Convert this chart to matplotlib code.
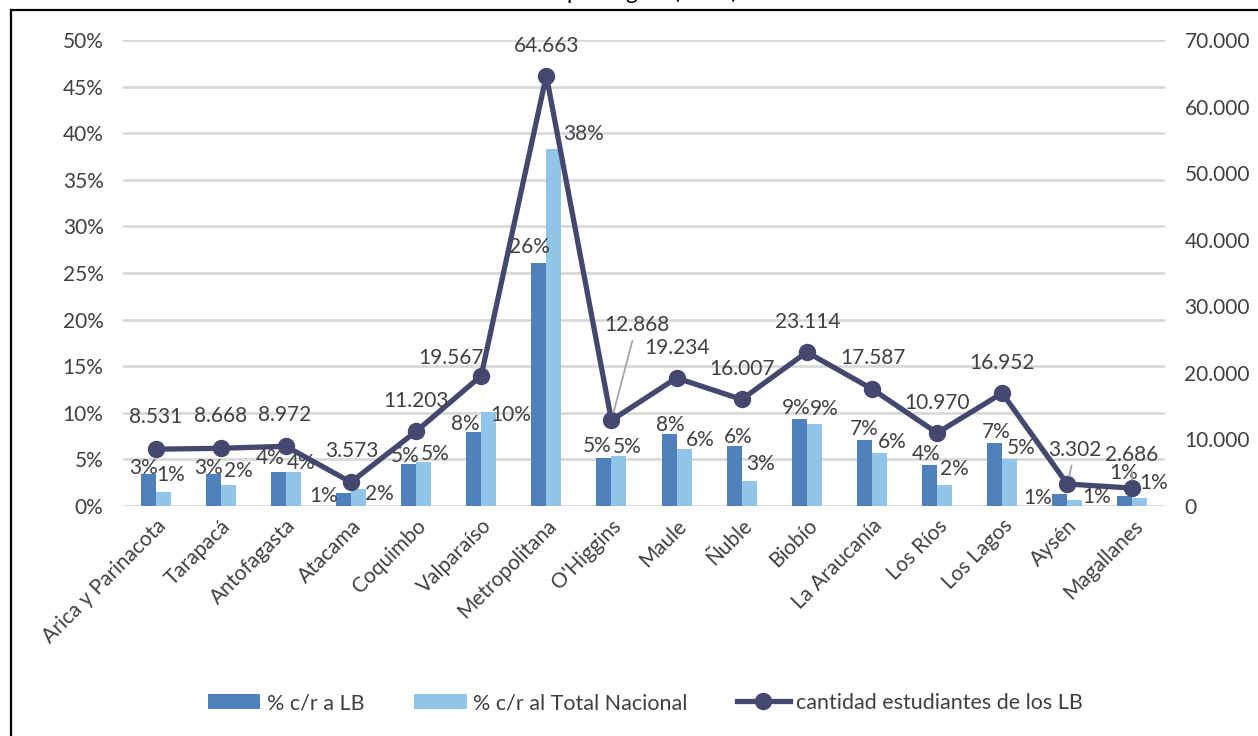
import numpy as np
import matplotlib.pyplot as plt
from matplotlib.lines import Line2D

plt.rcParams['font.family'] = ['Lato', 'DejaVu Sans']

# -----------------------------
# Datos
# -----------------------------
regiones = ['Arica y Parinacota', 'Tarapacá', 'Antofagasta', 'Atacama', 'Coquimbo',
            'Valparaíso', 'Metropolitana', "O'Higgins", 'Maule', 'Ñuble', 'Biobío',
            'La Araucanía', 'Los Ríos', 'Los Lagos', 'Aysén', 'Magallanes']
pct_lb = [3.4, 3.45, 3.6, 1.4, 4.55, 7.9, 26.1, 5.2, 7.7, 6.45, 9.3, 7.1, 4.4, 6.8, 1.3, 1.1]
pct_nacional = [1.45, 2.25, 3.6, 1.8, 4.75, 10.05, 38.3, 5.4, 6.1, 2.7, 8.8, 5.7, 2.2, 5.0, 0.6, 0.9]
estudiantes = [8531, 8668, 8972, 3573, 11203, 19567, 64663, 12868, 19234, 16007,
               23114, 17587, 10970, 16952, 3302, 2686]

# desplazamientos de etiquetas (pixeles: dx, dy sobre la barra / punto)
off_lb = [(-5, 6), (-5, 6), (-8, 14), (-20, -3), (-3, 8), (-8, 8), (-9, 16), (-7, 12),
          (1, 9), (4, 9), (-3, 11), (0, 11), (-3, 11), (2, 11), (-22, -4), (-1, 23)]
off_nac = [(8, 17), (10, 14), (8, 9), (21, -5), (12, 8), (22, -3), (30, 15), (8, 9),
           (16, 9), (11, 17), (10, 15), (13, 11), (10, 16), (11, 11), (22, 3), (14, 15)]
off_est = [(0, 32), (0, 32), (-1, 31), (1, 31), (0, 30), (-30, 18), (0, 30), (25, 95),
           (0, 30), (0, 30), (1, 30), (1, 31), (0, 30), (0, 30), (8, 34), (-1, 33)]
con_guia = [7, 14, 15]

c_lb = '#4f81bd'
c_nac = '#92c5ea'
c_linea = '#46476f'
c_texto = '#404040'
fs = 15

fig = plt.figure(figsize=(12.58, 7.36), dpi=100)
ax = fig.add_axes([123 / 1258, 1 - 506 / 736, 1042 / 1258, 466 / 736])
ax2 = ax.twinx()

x = np.arange(len(regiones))
w = 0.23
ax.bar(x - w / 2, pct_lb, w, color=c_lb, label='% c/r a LB', zorder=2)
ax.bar(x + w / 2, pct_nacional, w, color=c_nac, label='% c/r al Total Nacional', zorder=2)

ax.set_xlim(-0.5, len(regiones) - 0.5)
ax.set_ylim(0, 50)
ax.set_yticks(np.arange(0, 51, 5))
ax.set_yticklabels([f'{v}%' for v in range(0, 51, 5)])
ax.grid(axis='y', color='#d9d9d9', linewidth=2, zorder=0)
ax.set_axisbelow(True)

ax2.plot(x, estudiantes, color=c_linea, linewidth=3.8, marker='o', markersize=11.5,
         label='cantidad estudiantes de los LB', zorder=3)
ax2.set_ylim(0, 70000)
ax2.set_yticks(np.arange(0, 70001, 10000))
ax2.set_yticklabels(['0'] + [f'{v // 1000}.000' for v in range(10000, 70001, 10000)])

for a in (ax, ax2):
    for s in a.spines.values():
        s.set_visible(False)
    a.tick_params(length=0, labelsize=fs, colors=c_texto)
ax.tick_params(axis='y', pad=14)
ax2.tick_params(axis='y', pad=14)

ax.set_xticks(x)
ax.set_xticklabels(regiones, rotation=45, ha='right', va='top', rotation_mode='anchor')
ax.tick_params(axis='x', pad=7)

# etiquetas de barras
for i in range(len(regiones)):
    ax.annotate(f'{round(pct_lb[i])}%', (x[i] - w / 2, pct_lb[i]), xytext=off_lb[i],
                textcoords='offset pixels', ha='center', va='center', fontsize=fs,
                color=c_texto, zorder=5)
    ax.annotate(f'{round(pct_nacional[i])}%', (x[i] + w / 2, pct_nacional[i]), xytext=off_nac[i],
                textcoords='offset pixels', ha='center', va='center', fontsize=fs,
                color=c_texto, zorder=5)

# etiquetas de la linea
for i, v in enumerate(estudiantes):
    txt = f'{v:,}'.replace(',', '.')
    props = None
    if i in con_guia:
        props = dict(arrowstyle='-', color='#a6a6a6', linewidth=1.3, shrinkA=2, shrinkB=6)
    ax2.annotate(txt, (x[i], v), xytext=off_est[i], textcoords='offset pixels',
                 ha='center', va='center', fontsize=fs, color=c_texto,
                 arrowprops=props, zorder=5)

fig.legend(loc='center', bbox_to_anchor=(0.513, 1 - 703 / 736), ncol=3, frameon=False,
           fontsize=fs + 0.5, handlelength=2.45, handleheight=0.7, columnspacing=2.3,
           handletextpad=0.3, labelcolor=c_texto)

# titulo (cortado arriba, como en el original) y marco
fig.text(652 / 1258, 1 + 1 / 736, 'por región (2021)', ha='center', va='baseline',
         fontsize=16, color='black')
fig.add_artist(Line2D([11 / 1258, 11 / 1258], [0, 1 - 10 / 736], color='black',
                      linewidth=1.6, transform=fig.transFigure))
fig.add_artist(Line2D([11 / 1258, 1], [1 - 10 / 736, 1 - 10 / 736], color='black',
                      linewidth=1.6, transform=fig.transFigure))

fig.savefig('out.png', dpi=100)
